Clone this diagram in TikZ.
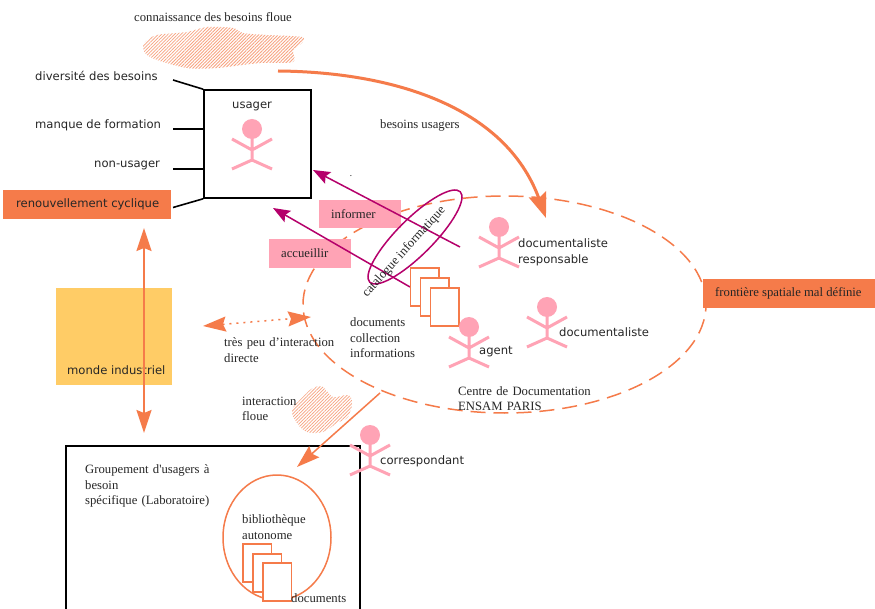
\documentclass[tikz,border=0pt]{standalone}
\usepackage{fontspec}
\setmainfont{Liberation Serif}
\newfontfamily\sansf{DejaVu Sans}
\usetikzlibrary{arrows.meta,patterns.meta,shapes.geometric}
\definecolor{orng}{HTML}{F57B4A}
\definecolor{pinkk}{HTML}{FFA3B5}
\definecolor{magen}{HTML}{B5006B}
\definecolor{yell}{HTML}{FFCC66}
\tikzset{
 x=1pt,y=-1pt,
 serif/.style={font=\fontsize{12.7}{15.5}\selectfont,align=left,anchor=west,inner sep=0,text=black!85},
 sans/.style={font=\sansf\fontsize{11.6}{16}\selectfont,align=left,anchor=west,inner sep=0,text=black!85},
 fillbox/.style={fill=orng,inner sep=0},
 pinkbox/.style={fill=pinkk,inner sep=0,minimum height=28.5pt,minimum width=82pt},
 conn/.style={black,line width=1.6pt},
 orhead/.tip={Stealth[length=23pt,width=15pt,inset=3pt]},
 magarrow/.style={magen,line width=1.5pt,-{Stealth[length=17pt,width=13pt,inset=3pt]}},
 orarrow/.style={orng,line width=1.5pt,-{orhead}},
 doc/.style={draw=orng,fill=white,line width=1.5pt,minimum width=28.5pt,minimum height=38pt,inner sep=0},
 cloud/.style={draw=none,pattern={Lines[distance=2.3pt,angle=45,line width=.8pt]},pattern color=orng!70},
}
\newcommand{\person}[2]{%
 \begin{scope}[shift={(#1,#2)}]
 \fill[pinkk] (0,-12) circle (10pt);
 \draw[pinkk,line width=3pt] (0,-3) -- (0,19) (-20,-2) -- (0,9) -- (20,-2) (-20,28) -- (0,19) -- (20,28);
 \end{scope}}
\begin{document}
\begin{tikzpicture}
\useasboundingbox (0,0) rectangle (875,609);
\fill[white] (0,0) rectangle (875,609);
% clouds
\fill[cloud] plot[smooth cycle,tension=.5] coordinates {(144,43) (157,35) (187,32) (207,27) (233,28) (243,33) (267,35) (302,37) (302,43) (293,50) (293,62) (260,63) (217,68) (187,68) (157,60) (145,53)};
\fill[cloud] plot[smooth cycle,tension=.6] coordinates {(292,410) (303,397) (313,388) (323,387) (333,397) (348,395) (352,403) (348,417) (337,423) (323,432) (307,432) (297,423)};
% industrial box
\node[fill=yell,minimum width=116pt,minimum height=97pt,inner sep=0] (ind) at (114,336.5) {};
\node[sans] (indt) at (67,370.5) {monde industriel};
% big dashed ellipse
\node[ellipse,draw=orng,line width=1.5pt,dash pattern=on 15pt off 8pt,minimum width=403pt,minimum height=217pt,inner sep=0] (cdoc) at (504.5,304.5) {};
% lab
\coordinate (b1) at (66,609); \coordinate (b2) at (66,446); \coordinate (b3) at (360,446); \coordinate (b4) at (360,609);
\draw[black,line width=1.5pt] (b1) -- (b2) -- (b3) -- (b4);
% user box
\node[draw=black,line width=1.5pt,minimum width=107pt,minimum height=108pt,inner sep=0] (ub) at (257.5,144) {};
\node[sans] (ut) at (232,106.5) {usager};
\person{252}{141}
\coordinate (a1) at (173,80); \coordinate (a2) at (173,129); \coordinate (a3) at (173,169); \coordinate (a4) at (173,207.5);
\draw[conn] (a1) -- (ub.north west);
\draw[conn] (a2) -- (ub.west |- a2);
\draw[conn] (a3) -- (ub.west |- a3);
\draw[conn] (a4) -- (ub.south west);
\node[serif] (t1) at (134,17) {connaissance des besoins floue};
\node[sans] (t2) at (35,76) {diversité des besoins};
\node[sans] (t3) at (35,125) {manque de formation};
\node[sans] (t4) at (94,165.5) {non-usager};
\node[fillbox,minimum width=168pt,minimum height=29pt] (ren) at (87,204.5) {};
\node[sans] (rent) at (16,204.5) {renouvellement cyclique};
% vertical arrow
\coordinate (v1) at (144,228); \coordinate (v2) at (144,433);
\draw[orng,line width=1.8pt,{orhead}-{orhead}] (v1) -- (v2);
% needs arrow
\coordinate (n1) at (278,71); \coordinate (n2) at (546,218);
\draw[orng,line width=3pt,-{Stealth[length=25pt,width=18pt,inset=4pt]}] (n1) .. controls (390,72) and (505,105) .. (n2);
\node[serif] (t5) at (380,125) {besoins usagers};
\node[font=\fontsize{9}{9}\selectfont,inner sep=0] (dot) at (351,176) {.};
% pink boxes
\node[pinkbox] (inf) at (360,214) {};
\node[serif] (inft) at (331,214) {informer};
\node[pinkbox] (acc) at (310,253.5) {};
\node[serif] (acct) at (281,253) {accueillir};
% magenta arrows
\coordinate (m1) at (460,247); \coordinate (m2) at (313,170);
\coordinate (m3) at (410,287); \coordinate (m4) at (273,208);
\draw[magarrow] (m1) -- (m2);
\draw[magarrow] (m3) -- (m4);
% catalogue
\node[ellipse,draw=magen,line width=1.5pt,minimum width=128pt,minimum height=36pt,inner sep=0,rotate=45] (cat) at (415,237) {};
\node[serif,anchor=center,rotate=48] (catt) at (404,252) {catalogue informatique};
% docs
\node[doc] (d1) at (424.5,287) {};
\node[doc] (d2) at (434.5,297) {};
\node[doc] (d3) at (444.5,307) {};
\node[serif] (t6) at (350,322) {documents};
\node[serif] (t7) at (350,338) {collection};
\node[serif] (t8) at (350,353) {informations};
\person{469}{339}
\node[sans] (t9) at (479,352) {agent};
\person{499}{239}
\node[sans,text width=110pt] (t10) at (518,252) {documentaliste\\responsable};
\person{547}{319}
\node[sans] (t11) at (559,332) {documentaliste};
\node[fillbox,minimum width=172pt,minimum height=29pt] (fr) at (789,293.5) {};
\node[serif] (frt) at (715,293.5) {frontière spatiale mal définie};
% dotted
\coordinate (p1) at (203,326); \coordinate (p2) at (311,317);
\draw[orng,line width=1.5pt,dash pattern=on 2pt off 5pt,{orhead}-{orhead}] (p1) -- (p2);
\node[serif,text width=120pt] (t12) at (224,350) {très peu d’interaction\\directe};
\node[serif,text width=80pt] (t13) at (242,409) {interaction\\floue};
\node[serif,text width=160pt] (t14) at (458,398.5) {Centre de Documentation\\ENSAM PARIS};
% arrow to lab
\coordinate (l1) at (380,393); \coordinate (l2) at (297,467);
\draw[orarrow] (l1) -- (l2);
\person{370}{447}
\node[sans] (t15) at (380,461) {correspondant};
\node[serif,text width=170pt] (t16) at (85,486) {Groupement d\textquotesingle usagers à\\besoin\\spécifique (Laboratoire)};
\node[ellipse,draw=orng,line width=1.5pt,minimum width=108pt,minimum height=125pt,inner sep=0] (bib) at (277,537.5) {};
\node[serif,text width=80pt] (t17) at (242,527) {bibliothèque\\autonome};
\node[doc] (e1) at (257,563) {};
\node[doc] (e2) at (267,573) {};
\node[doc] (e3) at (277,582) {};
\node[serif] (t18) at (291,598) {documents};
\end{tikzpicture}
\end{document}
